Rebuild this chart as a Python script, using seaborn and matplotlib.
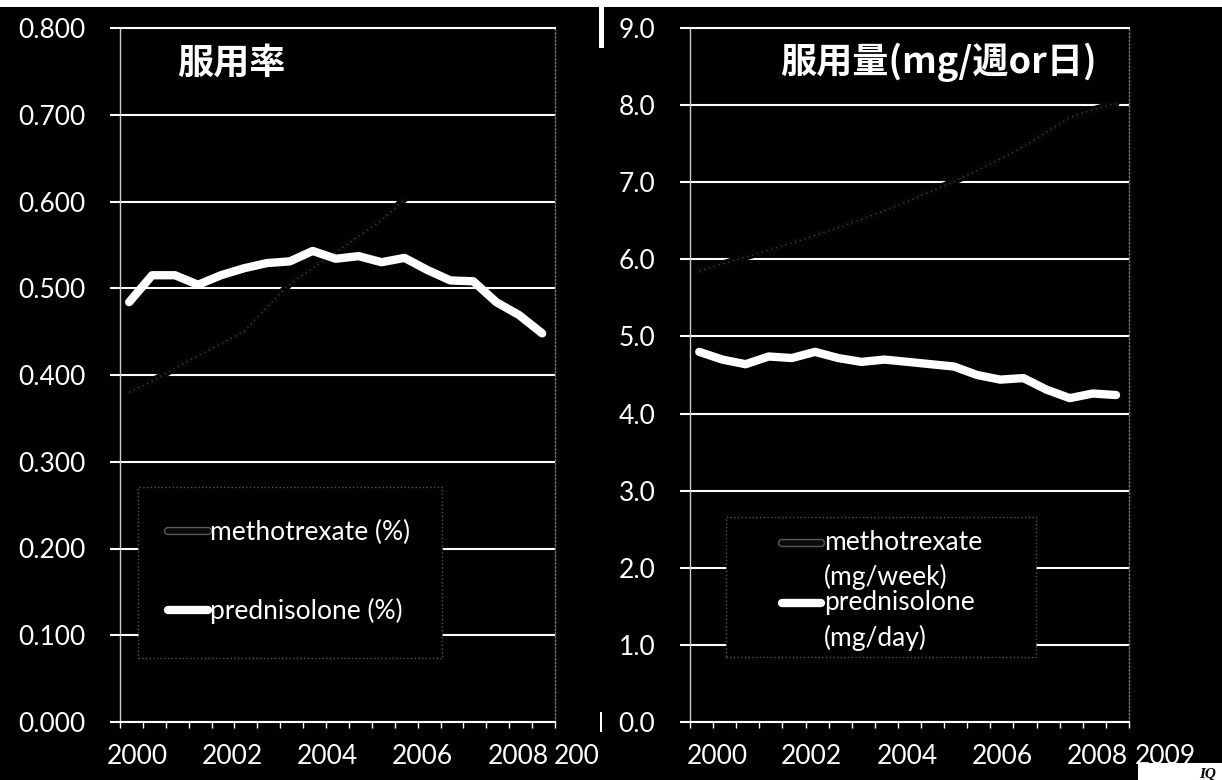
import numpy as np
import pandas as pd
import matplotlib
matplotlib.use("Agg")
import matplotlib.pyplot as plt
import matplotlib.patheffects as pe
from matplotlib.lines import Line2D
from matplotlib.patches import Rectangle
from matplotlib.legend_handler import HandlerLine2D
import seaborn as sns

# half-year periods 2000 - 2009
periods = [2000.0, 2000.5, 2001.0, 2001.5, 2002.0, 2002.5, 2003.0, 2003.5, 2004.0, 2004.5,
           2005.0, 2005.5, 2006.0, 2006.5, 2007.0, 2007.5, 2008.0, 2008.5, 2009.0]

# 服用率 (left)
rate_mtx = [0.380, 0.393, 0.408, 0.422, 0.436, 0.450, 0.478, 0.505, 0.523, 0.541,
            0.560, 0.578, 0.603]
rate_psl = [0.484, 0.515, 0.515, 0.504, 0.515, 0.523, 0.529, 0.531, 0.543, 0.534,
            0.537, 0.530, 0.535, 0.521, 0.509, 0.508, 0.484, 0.469, 0.448]

# 服用量 (right)
dose_mtx = [5.85, 5.94, 6.03, 6.12, 6.21, 6.31, 6.41, 6.52, 6.63, 6.75,
            6.88, 7.01, 7.15, 7.30, 7.46, 7.65, 7.84, 7.94, 8.02]
dose_psl = [4.80, 4.70, 4.64, 4.74, 4.72, 4.80, 4.72, 4.67, 4.70, 4.67,
            4.64, 4.61, 4.50, 4.44, 4.46, 4.31, 4.20, 4.26, 4.24]

year_labels = ['2000', '2002', '2004', '2006', '2008', '2009']
rate_ticks = [0.0, 0.1, 0.2, 0.3, 0.4, 0.5, 0.6, 0.7, 0.8]
dose_ticks = [0, 1, 2, 3, 4, 5, 6, 7, 8, 9]

titles = ['服用率', '服用量(mg/週or日)']
leg_left = ['methotrexate (%)', 'prednisolone (%)']
leg_right = ['methotrexate\n(mg/week)', 'prednisolone\n(mg/day)']

sns.set_style('dark', {'axes.facecolor': 'black', 'figure.facecolor': 'black',
                       'grid.color': 'white', 'axes.edgecolor': 'white',
                       'text.color': 'white', 'xtick.color': 'white', 'ytick.color': 'white'})
plt.rcParams['font.family'] = ['Lato', 'Noto Sans CJK JP', 'DejaVu Sans']


class RaisedHandler(HandlerLine2D):
    # put the handle on the first line of a two-line label
    def __init__(self, shift=0, **kw):
        super().__init__(**kw)
        self.shift = shift

    def create_artists(self, legend, orig_handle, xdescent, ydescent, width, height,
                       fontsize, trans):
        arts = super().create_artists(legend, orig_handle, xdescent, ydescent, width,
                                      height, fontsize, trans)
        for a in arts:
            a.set_ydata(np.asarray(a.get_ydata()) + self.shift)
        return arts


W, H = 1222, 780
fig = plt.figure(figsize=(W / 100, H / 100), dpi=100, facecolor='black')
ax1 = fig.add_axes([120 / W, 58 / H, 435 / W, 694 / H])
ax2 = fig.add_axes([690 / W, 58 / H, 439 / W, 694 / H])
ax1.set_zorder(0)
ax2.set_zorder(2)

xlim = (1999.80, 2009.28)
# Excel date-axis label spots (years, drift included)
lab_pos = {ax1: [2000.17, 2002.24, 2004.31, 2006.38, 2008.47, 2009.91],
           ax2: [2000.40, 2002.43, 2004.49, 2006.54, 2008.59, 2010.06]}


def draw(ax, mtx, psl, ticks, fmt, title, tx, labels, box, legc, lspace, shift):
    n = len(mtx)
    # methotrexate: dark thick line, barely visible (cuts gridlines)
    sns.lineplot(x=periods[:n], y=mtx, ax=ax, color='#050505', lw=5, zorder=2)
    sns.lineplot(x=periods[:n], y=mtx, ax=ax, color='#4a4a4a', lw=0.9,
                 linestyle=(0, (1, 3)), zorder=2.1)
    sns.lineplot(x=periods, y=psl, ax=ax, color='white', lw=6,
                 solid_capstyle='round', solid_joinstyle='round', zorder=3)

    ax.set_xlim(*xlim)
    ax.set_ylim(ticks[0], ticks[-1])
    ax.set_yticks(ticks)
    ax.set_yticklabels([fmt % t for t in ticks])
    ax.set_xticks([])
    ax.set_xticks(np.linspace(xlim[0], xlim[1], 20), minor=True)
    ax.tick_params(axis='y', which='major', length=7, width=1.5, color='white',
                   pad=18, labelsize=19, labelcolor='white', left=True)
    ax.tick_params(axis='x', which='minor', length=4, width=1, color='white',
                   direction='out', bottom=True)
    ax.yaxis.grid(True, color='white', lw=1.5)
    ax.xaxis.grid(False)
    ax.set_xlabel('')
    ax.set_ylabel('')
    for s in ['top', 'bottom']:
        ax.spines[s].set_visible(True)
        ax.spines[s].set_color('white')
        ax.spines[s].set_linewidth(1.5)
    ax.spines['left'].set_visible(True)
    ax.spines['left'].set_color('#cccccc')
    ax.spines['left'].set_linewidth(1)
    ax.spines['right'].set_visible(True)
    ax.spines['right'].set_color('#777777')
    ax.spines['right'].set_linestyle(':')
    ax.spines['right'].set_linewidth(1)

    for lab, xp in zip(year_labels, lab_pos[ax]):
        ax.text(xp, -0.049, lab, transform=ax.get_xaxis_transform(), ha='center',
                va='center', fontsize=19, color='white', clip_on=False)

    ax.text(tx, 0.95, title, transform=ax.transAxes, ha='left', va='center',
            fontsize=26, fontweight='bold', color='white',
            family=['Noto Sans CJK JP', 'DejaVu Sans'])

    ax.add_patch(Rectangle((box[0], box[1]), box[2] - box[0], box[3] - box[1],
                           transform=ax.transAxes, facecolor='black', edgecolor='#555555',
                           linestyle=':', lw=1, zorder=1.5))
    h_mtx = Line2D([], [], color='#0a0a0a', lw=4,
                   path_effects=[pe.Stroke(linewidth=6, foreground='#5a5a5a'), pe.Normal()])
    h_psl = Line2D([], [], color='white', lw=6, solid_capstyle='round')
    leg = ax.legend([h_mtx, h_psl], labels, loc='center', bbox_to_anchor=legc,
                    frameon=False, fontsize=19, labelcolor='white', handlelength=1.5,
                    handletextpad=0.1, labelspacing=lspace, borderpad=0,
                    handler_map={Line2D: RaisedHandler(shift=shift)})
    for t in leg.get_texts():
        t.set_linespacing(1.45)
    leg.set_zorder(5)


draw(ax1, rate_mtx, rate_psl, rate_ticks, '%.3f', titles[0], 0.131, leg_left,
     (0.041, 0.092, 0.740, 0.339), (0.389, 0.216), 2.0, 0)
draw(ax2, dose_mtx, dose_psl, dose_ticks, '%.1f', titles[1], 0.205, leg_right,
     (0.082, 0.094, 0.788, 0.295), (0.437, 0.19), 0.0, 13)

# scan edges / page bits
fig.patches.append(Rectangle((598 / W, 0), 1 - 598 / W, 1, transform=fig.transFigure,
                             facecolor='black', edgecolor='none', zorder=1))
fig.patches.append(Rectangle((0, 1 - 7 / H), 1, 7 / H, transform=fig.transFigure,
                             facecolor='white', edgecolor='none', zorder=3))
fig.patches.append(Rectangle((599 / W, 1 - 48 / H), 5 / W, 48 / H, transform=fig.transFigure,
                             facecolor='white', edgecolor='none', zorder=3))
fig.patches.append(Rectangle((600 / W, 1 - 732 / H), 2 / W, 20 / H, transform=fig.transFigure,
                             facecolor='white', edgecolor='none', zorder=3))
fig.patches.append(Rectangle((1138 / W, 0), 1 - 1138 / W, 17 / H, transform=fig.transFigure,
                             facecolor='white', edgecolor='none', zorder=1.5))
fig.text(1199 / W, -1 / H, 'IQ', fontsize=11, fontweight='bold', fontstyle='italic',
         family='Liberation Serif', color='black', ha='left', va='bottom', zorder=1.6)

fig.savefig('out.png', dpi=100, facecolor='black')
